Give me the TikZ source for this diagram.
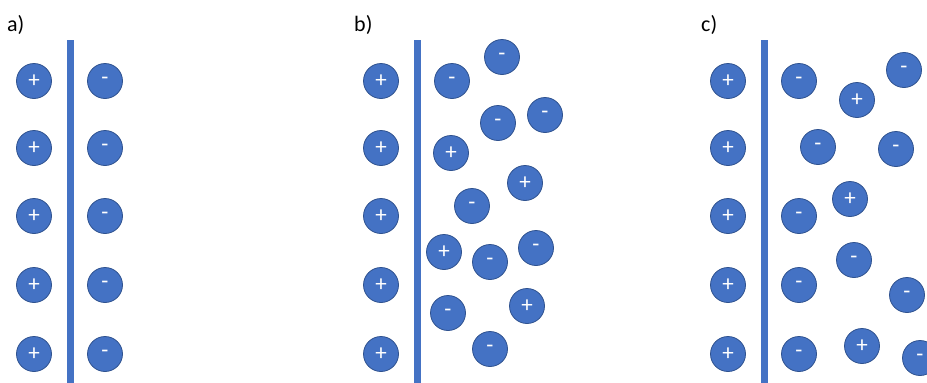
\documentclass[tikz,border=0pt]{standalone}
\usepackage{fontspec}
\setmainfont{Carlito}
\usetikzlibrary{positioning}
\definecolor{ionblue}{HTML}{4472C4}
\definecolor{ionedge}{HTML}{2F528F}

\begin{document}
\begin{tikzpicture}[x=1pt,y=-1pt,
  ion/.style={circle, draw=ionedge, fill=ionblue, line width=0.8pt,
    minimum size=35pt, inner sep=0pt, text=white,
    font=\fontsize{23}{23}\selectfont},
  wall/.style={ionblue, line width=7pt},
  tag/.style={anchor=west, inner sep=0pt, font=\fontsize{22}{22}\selectfont}]
  \useasboundingbox (0,0) rectangle (927,383);

  % panel labels
  \node[tag] (taga) at (7,25) {a)};
  \node[tag] (tagb) at (354,25) {b)};
  \node[tag] (tagc) at (701,25) {c)};

  % electrode and fixed positive layer
  \foreach \p/\x in {a/34,b/381,c/728} {
    \draw[wall] (\x+36,40) -- (\x+36,383);
    \foreach \j/\y in {1/81,2/148,3/216,4/285,5/354}
      \node[ion] (\p plus\j) at (\x,\y) {+};
  }

  % a) compact layer
  \foreach \j/\y in {1/81,2/148,3/216,4/285,5/354}
    \node[ion] (aminus\j) at (105,\y) {-};

  % b) diffuse layer
  \foreach \j/\x/\y/\s in {1/452/81/-, 2/502/57/-, 3/498/123/-, 4/545/115/-,
      5/451/153/+, 6/525/183/+, 7/472/206/-, 8/444/252/+, 9/490/262/-,
      10/536/248/-, 11/448/313/-, 12/527/306/+, 13/490/349/-}
    \node[ion] (bion\j) at (\x,\y) {\s};

  % c) mixed layer
  \foreach \j/\x/\y/\s in {1/799/81/-, 2/904/70/-, 3/857/100/+, 4/818/147/-,
      5/896/149/-, 6/850/199/+, 7/799/216/-, 8/854/260/-, 9/799/285/-,
      10/907/295/-, 11/799/354/-, 12/862/346/+, 13/920/358/-}
    \node[ion] (cion\j) at (\x,\y) {\s};
\end{tikzpicture}
\end{document}
